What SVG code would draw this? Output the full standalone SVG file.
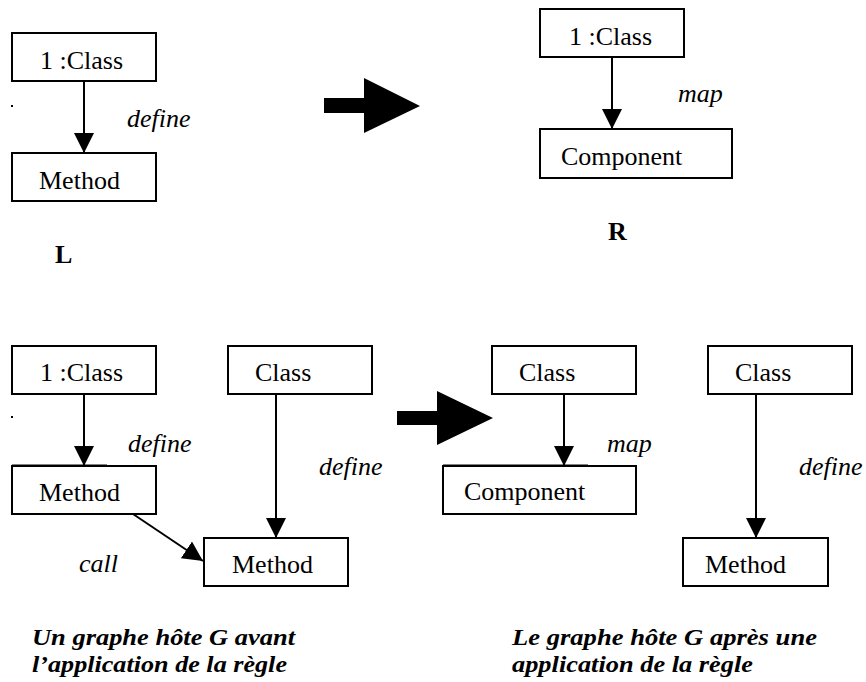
<svg xmlns="http://www.w3.org/2000/svg" width="866" height="682" viewBox="0 0 866 682">
<style>
.box{fill:#fff;stroke:#000;stroke-width:2}
.t{font-family:'Liberation Serif','Times New Roman','DejaVu Serif',serif;font-size:26px;fill:#000}
.i{font-style:italic}
.b{font-weight:bold}
.cap{font-family:'Liberation Serif','Times New Roman','DejaVu Serif',serif;font-size:23px;font-weight:bold;font-style:italic;fill:#000}
.edge{stroke:#000;stroke-width:2;fill:none;marker-end:url(#ah)}
.frag{stroke:#000;stroke-width:1}
</style>
<defs>
<marker id="ah" markerUnits="userSpaceOnUse" markerWidth="20" markerHeight="20" refX="20" refY="10" orient="auto">
<path d="M0,0 L20,10 L0,20 z" fill="#000"/>
</marker>
</defs>
<rect width="866" height="682" fill="#fff"/>

<g id="connectors">
<line class="edge" x1="84" y1="81" x2="84" y2="153"/>
<line class="edge" x1="612" y1="57" x2="612" y2="129"/>
<line class="edge" x1="84" y1="394" x2="84" y2="466"/>
<line class="edge" x1="276" y1="394" x2="276" y2="538"/>
<line class="edge" x1="133" y1="514" x2="203" y2="561"/>
<line class="edge" x1="564" y1="394" x2="564" y2="466"/>
<line class="edge" x1="756" y1="394" x2="756" y2="538"/>
<text class="t i" x="127" y="127">define</text>
<text class="t i" x="678" y="102">map</text>
<text class="t i" x="128" y="452">define</text>
<text class="t i" x="319" y="475">define</text>
<text class="t i" x="79" y="572">call</text>
<text class="t i" x="607" y="452">map</text>
<text class="t i" x="799" y="475">define</text>
</g>

<g id="rule-arrows">
<path d="M324,98 H364 V78 L420,106 L364,133 V113 H324 z" fill="#000"/>
<path d="M397,411 H437 V391 L493,418 L437,445 V425 H397 z" fill="#000"/>
</g>

<g id="marks">
<rect x="11" y="105" width="2" height="2" fill="#000"/>
<rect x="11" y="416" width="2" height="2" fill="#000"/>
</g>

<g id="L-class"><rect class="box" x="12" y="33" width="144" height="48"/><text class="t" x="40" y="69">1 :Class</text></g>
<g id="L-method"><rect class="box" x="12" y="153" width="144" height="48"/><text class="t" x="39" y="189">Method</text></g>
<g id="L-label"><text class="t b" x="55" y="263">L</text></g>

<g id="R-class"><rect class="box" x="540" y="9" width="144" height="48"/><text class="t" x="569" y="45">1 :Class</text></g>
<g id="R-component"><rect class="box" x="540" y="129" width="192" height="49"/><text class="t" x="561" y="165">Component</text></g>
<g id="R-label"><text class="t b" x="608" y="240">R</text></g>

<g id="G1-class1"><rect class="box" x="12" y="346" width="144" height="48"/><text class="t" x="40" y="381">1 :Class</text></g>
<g id="G1-method1"><rect class="box" x="12" y="466" width="144" height="48"/><line class="frag" x1="12" y1="465" x2="107" y2="465"/><text class="t" x="39" y="501">Method</text></g>
<g id="G1-class2"><rect class="box" x="228" y="346" width="144" height="48"/><text class="t" x="255" y="381">Class</text></g>
<g id="G1-method2"><rect class="box" x="204" y="538" width="144" height="48"/><text class="t" x="232" y="573">Method</text></g>

<g id="G2-class1"><rect class="box" x="492" y="346" width="144" height="48"/><text class="t" x="519" y="381">Class</text></g>
<g id="G2-component"><rect class="box" x="443" y="466" width="193" height="48"/><line class="frag" x1="443" y1="465" x2="588" y2="465"/><text class="t" x="464" y="500">Component</text></g>
<g id="G2-class2"><rect class="box" x="708" y="346" width="144" height="48"/><text class="t" x="735" y="381">Class</text></g>
<g id="G2-method"><rect class="box" x="683" y="538" width="145" height="48"/><text class="t" x="705" y="573">Method</text></g>

<g id="caption-before">
<text class="cap" x="32" y="645" textLength="263" lengthAdjust="spacingAndGlyphs">Un graphe hôte G avant</text>
<text class="cap" x="32" y="672" textLength="255" lengthAdjust="spacingAndGlyphs">l’application de la règle</text>
</g>
<g id="caption-after">
<text class="cap" x="512" y="645" textLength="305" lengthAdjust="spacingAndGlyphs">Le graphe hôte G après une</text>
<text class="cap" x="512" y="672" textLength="241" lengthAdjust="spacingAndGlyphs">application de la règle</text>
</g>
</svg>
